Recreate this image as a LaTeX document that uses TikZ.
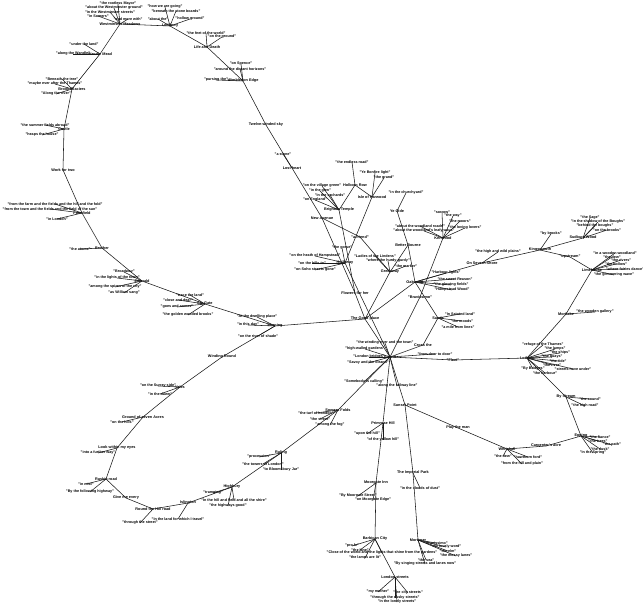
\documentclass[tikz,border=0pt]{standalone}
\usepackage{fontspec}
\setmainfont{Liberation Sans}
\tikzset{
  hub/.style={font=\fontsize{3.8}{4}\selectfont\bfseries, inner sep=0pt},
  leaf/.style={font=\fontsize{3.7}{4}\selectfont\bfseries, inner sep=0pt},
  edge/.style={line width=0.55pt, draw=black!90},
}
\newcommand\myleaves[2]{%
  \foreach \lx/\ly/\lt [count=\li] in {#2}{%
    \node[leaf] (#1-\li) at (\lx,\ly) {\lt};
    \draw[edge] (#1.center) -- (#1-\li.center);
  }}
\newcommand\mylinks[1]{%
  \foreach \ea/\eb in {#1}{\draw[edge] (\ea.center) -- (\eb.center);}}
\begin{document}
\begin{tikzpicture}[x=1pt,y=-1pt]
\fill[white] (0,0) rectangle (643,607);
\useasboundingbox (0,0) rectangle (643,607);
% hubs
\node[hub] (W) at (120,24) {Westminster Meadows};
\node[hub] (B) at (170,26) {Lothbury};
\node[hub] (LD) at (207,47) {Life and Death};
\node[hub] (E) at (243,81) {Wimbledon Edge};
\node[hub] (T) at (266,125) {Twelve-winded sky};
\node[hub] (LH) at (292,168) {Lost heart};
\node[hub] (N) at (322,218) {New Avenue};
\node[hub] (A1) at (100,54) {Wandle Mead};
\node[hub] (A2) at (72,89) {Brook Glaciers};
\node[hub] (A3) at (64,129) {Castle};
\node[hub] (WT) at (63,170) {Work for two};
\node[hub] (A4) at (82,213) {Farmfield};
\node[hub] (A5) at (102,248) {Brother};
\node[hub] (A6) at (142,281) {Emerald};
\node[hub] (A7) at (205,304) {Ely Gate};
\node[hub] (A8) at (275,326) {Morning};
\node[hub] (WR) at (222,357) {Winding Round};
\node[hub] (A9) at (180,387) {Vales};
\node[hub] (A10) at (143,417) {Ground of seven Acres};
\node[hub] (A11) at (117,448) {Look within my eyes};
\node[hub] (A12) at (106,479) {Ruskin road};
\node[hub] (GE) at (126,498) {Give me every};
\node[hub] (A13) at (153,509) {Round the Hill road};
\node[hub] (A14) at (188,503) {Islington};
\node[hub] (A15) at (232,487) {Highbury};
\node[hub] (A16) at (281,453) {Ruling};
\node[hub] (A17) at (338,410) {Somers Folds};
\node[hub] (C0) at (390,357) {Strand};
\node[hub] (C1) at (365,319) {The Good place};
\node[hub] (F) at (355,293) {Flowers for her};
\node[hub] (G) at (390,272) {Greenway};
\node[hub] (H) at (345,263) {Holloway};
\node[hub] (X) at (360,237) {"a friend"};
\node[hub] (R) at (339,210) {Brighton Temple};
\node[hub] (Y) at (355,185) {Holborn Row};
\node[hub] (I) at (372,197) {Isle of Harwood};
\node[hub] (Ye) at (397,211) {Ye Olde};
\node[hub] (Bt) at (408,245) {Better Bourne};
\node[hub] (K) at (443,238) {Kenwood};
\node[hub] (Gr) at (415,282) {Oakwood};
\node[hub] (Bv) at (420,297) {"Bravissimo"};
\node[hub] (Sa) at (438,318) {Sands};
\node[hub] (Cr) at (423,345) {Cross the};
\node[hub] (Sh) at (482,263) {On Severn Shore};
\node[hub] (Q) at (540,250) {Kingsmouth};
\node[hub] (U) at (570,257) {"upstream"};
\node[hub] (Q2) at (583,238) {Sudbury Wood};
\node[hub] (Q3) at (592,270) {Limehouse};
\node[hub] (Mg) at (566,314) {Mortlake};
\node[hub] (Lc) at (527,358) {Lotham};
\node[hub] (Fl) at (453,360) {"Fleet"};
\node[hub] (Br) at (566,397) {By Stream};
\node[hub] (Ep) at (581,436) {Epping};
\node[hub] (Cp) at (546,446) {Carpenter's acre};
\node[hub] (Wh) at (507,449) {Whitehall};
\node[hub] (Pl) at (458,428) {Play the man};
\node[hub] (SP) at (405,405) {Sunset Point};
\node[hub] (Pr) at (383,423) {Primrose Hill};
\node[hub] (Mo) at (376,483) {Moorgate Inn};
\node[hub] (Pk) at (413,473) {The Imperial Park};
\node[hub] (Ba) at (375,539) {Barbican City};
\node[hub] (Mi) at (418,540) {Mortimer};
\node[hub] (Ls) at (395,577) {London streets};
% backbone
\mylinks{W/B,B/LD,LD/E,E/T,T/LH,LH/N,N/F,F/C1,C1/C0,
W/A1,A1/A2,A2/A3,A3/WT,WT/A4,A4/A5,A5/A6,A6/A7,A7/A8,A8/C1,
A8/WR,WR/A9,A9/A10,A10/A11,A11/A12,A12/GE,GE/A13,A13/A14,A14/A15,A15/A16,A16/A17,A17/C0,
N/X,X/G,C1/G,G/Bt,Ye/Bt,Bt/Gr,Gr/Sa,Sa/Cr,Cr/C0,Gr/C1,Gr/Sh,Sh/Q,Q/Q2,Q/U,U/Q3,Q3/Mg,Mg/Lc,
Lc/Fl,Fl/C0,Lc/Br,Br/Ep,Ep/Cp,Cp/Wh,Wh/Pl,Pl/SP,SP/C0,C0/Pr,Pr/Mo,Mo/Ba,Ba/Ls,SP/Pk,Pk/Mi,
K/Bv,Bv/C0,R/F,R/Y,Y/I,I/H,H/C0}
% leaves
\myleaves{W}{118/4/"the rootless Mayor",114/8/"about the Westminster ground",110/12/"in the Westminster streets",98/16/"in Somers",128/19/"and more with"}
\myleaves{B}{165/7/"how we are going",176/11/"beneath the stone boards",158/19/"about the",190/19/"hollow ground"}
\myleaves{LD}{206/33/"the feet of the world",222/37/"on the ground"}
\myleaves{E}{241/64/"on Spence",240/69/"around the distant horizons",216/80/"pursing the"}
\myleaves{LH}{283/154/"a stone"}
\myleaves{A1}{84/44/"under the land",73/54/"along the Wandle"}
\myleaves{A2}{62/79/"Beneath the tree",55/84/"maybe ever after the Thames",56/94/"Along the river"}
\myleaves{A3}{45/125/"the summer fields abroad",42/135/"heaps the house"}
\myleaves{A4}{55/204/"from the farm and the fields and the hill and the fold",50/209/"from the town and the fields and the field of the sun",57/219/"in London"}
\myleaves{A5}{80/249/"the atoms"}
\myleaves{A6}{124/272/"Broadway",117/278/"in the lights of the town",115/287/"among the spires of the city",124/293/"as William sang"}
\myleaves{A7}{190/295/"trace the land",178/300/"close and dear",177/307/"goes and comes",188/315/"the golden wooded brooks"}
\myleaves{A8}{257/317/"At the dwelling place",248/325/"in this day",258/336/"on the river of shade"}
\myleaves{A9}{158/386/"on the Surrey side",160/394/"in the dawn"}
\myleaves{A10}{122/422/"on the hills"}
\myleaves{A11}{98/453/"into a further way"}
\myleaves{A12}{86/484/"in mist",90/492/"By the following highway"}
\myleaves{A13}{140/523/"through the street"}
\myleaves{A14}{178/519/"In the land for which I travel"}
\myleaves{A15}{213/493/"tramping",234/500/"In the hill and field and all the shire",228/506/"the highways good"}
\myleaves{A16}{259/457/"procession",263/464/"the towers of London",281/470/"to Bloomsbury Jar"}
\myleaves{A17}{316/413/"the turf of London",320/419/"the street",330/425/"among the fog"}
\myleaves{C0}{385/343/"the winding river and the town",365/349/"high-walled gardens",369/357/"London bridges",368/363/"Savoy and the Strand",364/382/"Somebody is calling",397/386/"along the railway line",435/354/"from door to door"}
\myleaves{G}{375/256/"Ladies of the Lindens",388/261/"where the hurdy-gurdy",406/266/"the marker"}
\myleaves{H}{342/248/"the gorse",315/256/"on the heath of Hampstead",312/263/"on the hills to",315/270/"on Soho streets gone"}
\myleaves{R}{322/186/"on the village green",320/191/"in the glen",330/195/"in the orchards",315/200/"on England"}
\myleaves{Y}{352/162/"the endless road"}
\myleaves{I}{375/173/"Ye Bonfire light",384/178/"the grand"}
\myleaves{Ye}{406/193/"in the churchyard"}
\myleaves{K}{442/212/"sorrow",453/216/"the way",460/221/"the moors",465/228/"the loving lovers",420/226/"about the woodland roads",424/231/"about the woodland's leafy ways"}
\myleaves{Gr}{446/273/"Harbour lights",455/279/"the sweet Reason",451/285/"the glowing fields",452/290/"Hampstead Wood"}
\myleaves{Sa}{460/314/"In Sainted land",462/321/"the moods",458/327/"a mile from lines"}
\myleaves{Sh}{498/252/"the high and wild plains"}
\myleaves{Q}{551/234/"by brooks"}
\myleaves{Q2}{590/218/"the Sage",598/222/"in the shadow of the Boughs",595/226/"behind the boughs",607/230/"on the brooks"}
\myleaves{Q3}{615/253/"in a wooden woodland",612/257/"the dew",621/260/"the rivers",616/264/"the hollow",625/269/"where fairies dance",614/275/"the glimmering wave"}
\myleaves{Mg}{595/312/"the wooden gallery"}
\myleaves{Lc}{543/345/"refuge of the Thames",555/349/"the lamps",560/353/"the ships",552/357/"the quays",558/361/"the tide",552/365/"the river",573/369/"streets have under",533/369/"By Bridges",545/373/"the harbour"}
\myleaves{Br}{590/399/"the sound",585/406/"the high road"}
\myleaves{Ep}{600/437/"the fiance",598/441/"the trees",612/445/"the path",600/449/"the dusk",593/453/"in the Spring"}
\myleaves{Wh}{503/456/"the dew",528/457/"hawthorn ford",522/464/"from the hill and plain"}
\myleaves{Pr}{367/434/"upon the hill",383/440/"of the yellow hill"}
\myleaves{Mo}{358/496/"By Moorgate Street",373/500/"on Moorgate Edge"}
\myleaves{Pk}{420/488/"in the clouds of dust"}
\myleaves{Ba}{352/546/"pro fe",360/550/"the lane",382/553/"Close of the world and the lights that shine from the gardens",365/558/"the lamps are lit"}
\myleaves{Mi}{436/543/"Bravissimo",446/547/"the lovely word",448/551/"the elm",456/556/"the mossy lanes",426/560/"the sea",425/564/"By singing streets and lanes now"}
\myleaves{Ls}{378/592/"my mother",408/593/"the city streets",395/598/"through the dusky streets",397/602/"in the lonely streets"}
\end{tikzpicture}
\end{document}
